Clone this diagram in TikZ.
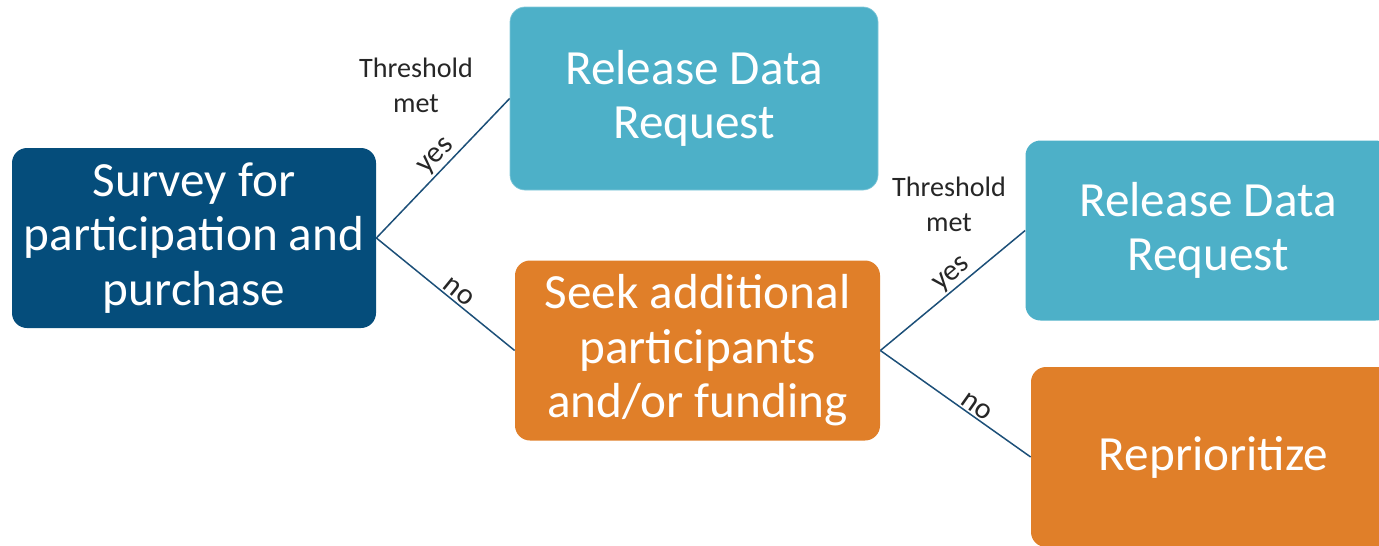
\documentclass[tikz,border=0pt]{standalone}
\usepackage{fontspec}
\setmainfont{Carlito}
\definecolor{darkblue}{HTML}{054D7B}
\definecolor{lightblue}{HTML}{4DB0C8}
\definecolor{orange}{HTML}{E07F29}
\definecolor{linkblue}{HTML}{1C4F78}
\tikzset{
  box/.style={rounded corners=0.3cm, minimum width=7.3cm, minimum height=3.6cm,
    align=center, text=white, font=\fontsize{28}{31}\selectfont},
  link/.style={draw=linkblue, line width=0.85pt},
  lbl/.style={font=\fontsize{16}{20}\selectfont, text=black!85, align=center},
  ans/.style={font=\fontsize{17}{20}\selectfont, text=black!85, inner sep=1pt}
}
\begin{document}
\begin{tikzpicture}
                    \useasboundingbox (0,0) rectangle (27.58,10.9);
                    \node[box, fill=darkblue, minimum width=7.28cm] (survey) at (3.88,6.14) {Survey for\\participation and\\purchase};
                    \node[box, fill=lightblue, draw=lightblue!70!white, minimum width=7.36cm, minimum height=3.66cm] (release1) at (13.88,8.93) {Release Data\\Request};
                    \node[box, fill=orange] (seek) at (13.95,3.89) {Seek additional\\participants\\and/or funding};
                    \node[box, fill=lightblue] (release2) at (24.16,6.29) {Release Data\\Request};
                    \node[box, fill=orange] (reprio) at (24.27,1.76) {Reprioritize};
                    \draw[link] (survey.east) -- node[pos=0.52,above,sloped,ans] (yes1) {yes} (release1.west);
                    \draw[link] (survey.east) -- node[pos=0.55,above,sloped,ans] (no1) {no} (seek.west);
                    \draw[link] (seek.east) -- node[pos=0.55,above,sloped,ans] (yes2) {yes} (release2.west);
                    \draw[link] (seek.east) -- node[pos=0.6,above,sloped,ans] (no2) {no} (reprio.west);
                    \node[lbl] (thresh1) at (8.32,9.2) {Threshold\\met};
                    \node[lbl] (thresh2) at (18.98,6.82) {Threshold\\met};
                \end{tikzpicture}
\end{document}
